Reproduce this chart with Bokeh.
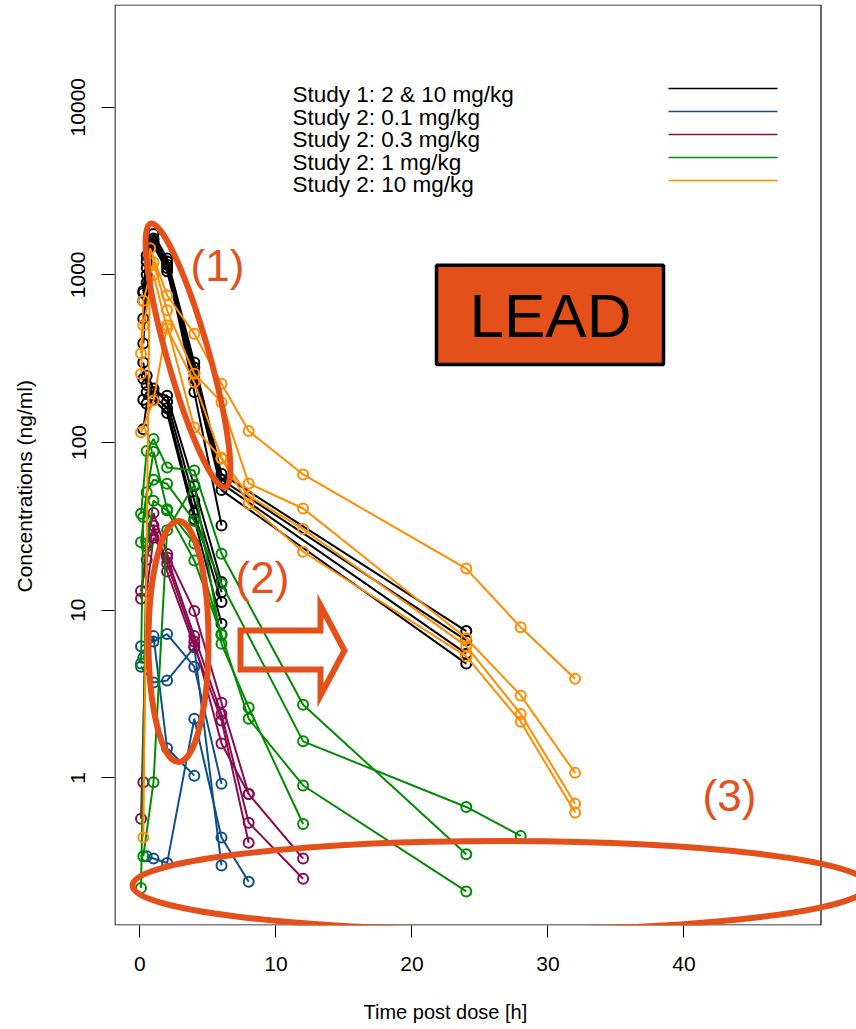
import math
from bokeh.plotting import figure
from bokeh.models import Range1d, FixedTicker, PrintfTickFormatter, Title
from bokeh.core.properties import value
from bokeh.embed import file_html
from bokeh.resources import INLINE

# ---------------- data ----------------
legend_labels = ["Study 1: 2 & 10 mg/kg", "Study 2: 0.1 mg/kg", "Study 2: 0.3 mg/kg",
                 "Study 2: 1 mg/kg", "Study 2: 10 mg/kg"]
group_colors = ["#000000", "#104E8B", "#8B0A50", "#008B00", "#FF8C00"]

x_ticks = [0, 10, 20, 30, 40]
y_ticks = [1, 10, 100, 1000, 10000]

# Study 1 (2 & 10 mg/kg) - black
study1_times = [
    [0.25, 0.5, 1, 2, 4, 6, 24],
    [0.25, 0.5, 1, 2, 4, 6, 24],
    [0.25, 0.5, 1, 2, 4, 6, 24],
    [0.25, 0.5, 1, 2, 4, 6, 24],
    [0.25, 0.5, 1, 2, 4, 6],
    [0.25, 0.5, 1, 2, 4, 6],
    [0.25, 0.5, 1, 2, 4, 6],
    [0.25, 0.5, 1, 2, 4, 6],
    [0.25, 0.5, 1, 2, 4, 6],
]
study1_conc = [
    [800, 1300, 1750, 1250, 300, 65, 7.5],
    [700, 1200, 1650, 1200, 280, 60, 6.6],
    [550, 1000, 1550, 1100, 260, 57, 5.5],
    [390, 900, 1500, 1050, 240, 52, 4.8],
    [780, 1100, 1600, 1150, 200, 32],
    [300, 220, 200, 190, 55, 14.7],
    [240, 250, 210, 175, 45, 12.8],
    [180, 200, 190, 160, 38, 11.2],
    [120, 170, 180, 150, 35, 8.3],
]

# Study 2: 0.1 mg/kg - blue
dose01_times = [
    [0.083, 1, 2, 4, 6],
    [0.5, 1, 2, 4, 6, 8],
    [0.083, 1, 2, 4, 6],
    [0.25, 1, 2, 4],
]
dose01_conc = [
    [6.1, 6.5, 7.2, 4.6, 0.92],
    [0.34, 0.33, 0.31, 2.25, 0.44, 0.24],
    [4.6, 3.7, 3.8, 6.0, 0.30],
    [5.2, 7.0, 1.5, 1.03],
]

# Study 2: 0.3 mg/kg - purple
dose03_times = [
    [0.083, 0.5, 1, 2, 4, 6, 8, 12],
    [0.083, 0.5, 1, 2, 4, 6, 8, 12],
    [0.25, 0.5, 1, 2, 4, 6, 8],
    [0.083, 0.5, 1, 2, 4, 6, 8],
]
dose03_conc = [
    [11.7, 25, 38, 21.6, 9.9, 2.8, 0.8, 0.33],
    [0.57, 13, 27, 20.6, 7.0, 2.4, 0.54, 0.25],
    [0.94, 25, 30, 17, 6.1, 2.2, 0.41],
    [13, 20, 32, 19, 6.5, 1.6, 0.8],
]

# Study 2: 1 mg/kg - green
dose1_times = [
    [0.083, 0.5, 1, 2, 4, 6, 12, 24],
    [0.083, 0.5, 1, 2, 4, 6, 12, 24, 28],
    [0.083, 0.5, 1, 2, 4, 6, 8, 12, 24],
    [0.25, 1, 2, 4, 6, 8, 12],
    [0.083, 0.25, 1, 2, 4, 6],
]
dose1_conc = [
    [37.6, 89, 105, 71, 68, 21.7, 2.73, 0.35],
    [25.4, 50.5, 60, 56.7, 34, 14.4, 1.65, 0.67, 0.45],
    [0.22, 24, 45, 39.3, 19.8, 7.1, 2.25, 0.9, 0.21],
    [0.34, 0.94, 30, 56, 6.3, 2.63, 0.53],
    [4.8, 36, 88, 40, 25, 7.2],
]

# Study 2: 10 mg/kg - orange
dose10_times = [
    [0.25, 0.75, 2, 4, 6, 8, 12, 24, 28, 32],
    [0.083, 0.25, 1, 2, 4, 6, 8, 12, 24, 28, 32],
    [0.083, 0.25, 1, 2, 4, 6, 8, 12, 24, 28, 32],
    [0.083, 1, 2, 4, 6, 8, 12, 24, 28, 32],
]
dose10_conc = [
    [0.44, 1440, 755, 445, 224, 117, 64.5, 17.7, 7.9, 3.9],
    [339, 700, 1190, 614, 257, 174, 57, 40.4, 6.8, 3.1, 1.07],
    [256, 500, 1000, 478, 229, 81, 48, 30.5, 6.1, 2.4, 0.70],
    [115, 178, 500, 123, 80, 43, 22.3, 5.3, 2.16, 0.62],
]

annotation_labels = ["(1)", "(2)", "(3)"]
lead_label = "LEAD"
x_title = "Time post dose [h]"
y_title = "Concentrations (ng/ml)"

# ---------------- layout helpers (pixel -> data) ----------------
X0, KX = 139.4, 13.6
Y1, KY = 777.3, 167.65


def px_x(px):
    return (px - X0) / KX


def px_y(py):
    return 10 ** ((Y1 - py) / KY)


FONT = "Liberation Sans"
ACCENT = "#E4501A"

p = figure(width=856, height=1029, y_axis_type="log",
           x_range=Range1d(px_x(114), px_x(856)),
           y_range=Range1d(px_y(925), px_y(4)),
           output_backend="svg", toolbar_location=None,
           min_border_left=114, min_border_right=0,
           min_border_top=4, min_border_bottom=104,
           outline_line_color=None,
           background_fill_color="white", border_fill_color="white")
p.grid.grid_line_color = None

# axes
p.xaxis.ticker = FixedTicker(ticks=x_ticks, minor_ticks=[])
p.yaxis.ticker = FixedTicker(ticks=y_ticks, minor_ticks=[])
p.yaxis.formatter = PrintfTickFormatter(format="%.0f")
for ax in (p.xaxis, p.yaxis):
    ax.axis_line_color = None
    ax.major_tick_in = 0
    ax.minor_tick_line_color = None
    ax.major_tick_line_color = "black"
    ax.major_tick_line_width = 1
    ax.major_label_text_font = FONT
    ax.major_label_text_font_size = "21px"
    ax.major_label_text_color = "black"
    # tiny spacer label: pushes the real titles (below) to R's positions
    ax.axis_label = " "
    ax.axis_label_text_font_size = "1px"
p.xaxis.major_tick_out = 12
p.yaxis.major_tick_out = 13
p.xaxis.major_label_standoff = 19
p.yaxis.major_label_standoff = 16
p.yaxis.major_label_orientation = "vertical"
p.xaxis.axis_label_standoff = 19
p.yaxis.axis_label_standoff = 27

# axis titles, placed where R put them
p.add_layout(Title(text=x_title, align="left", offset=363 - 114, standoff=4,
                   text_font=FONT, text_font_size="20px", text_font_style="normal",
                   text_color="black"), "below")
p.add_layout(Title(text=y_title, align="left", offset=925 - 592, standoff=4,
                   text_font=FONT, text_font_size="21px", text_font_style="normal",
                   text_color="black"), "left")

# plot box
p.quad(left=[px_x(114.5)], right=[px_x(820.5)], top=[px_y(4.5)], bottom=[px_y(924.5)],
       fill_color=None, line_color="black", line_width=1.2)

# data
groups = [(study1_times, study1_conc), (dose01_times, dose01_conc),
          (dose03_times, dose03_conc), (dose1_times, dose1_conc),
          (dose10_times, dose10_conc)]
for (tt, cc), col in zip(groups, group_colors):
    for t, c in zip(tt, cc):
        p.line(t, c, line_color=col, line_width=2)
        p.scatter(t, c, marker="circle", size=10, fill_color=None,
                  line_color=col, line_width=2)

# legend (text left, line samples right)
leg_text_y = [94, 116.5, 139, 161.5, 184]
leg_line_y = [88, 111, 134, 157, 180]
p.text(x=[px_x(292)] * 5, y=[px_y(v) for v in leg_text_y], text=legend_labels,
       text_font=value(FONT), text_font_size="22.5px", text_color="black",
       text_align="left", text_baseline="middle")
p.segment(x0=[px_x(668)] * 5, x1=[px_x(777)] * 5,
          y0=[px_y(v) for v in leg_line_y], y1=[px_y(v) for v in leg_line_y],
          line_color=group_colors, line_width=1.5)

# annotations
p.ellipse(x=[px_x(187.5)], y=[px_y(355)], width=[42], height=[274],
          angle=[math.radians(15.8)], width_units="screen", height_units="screen",
          fill_color=None, line_color=ACCENT, line_width=6)
p.ellipse(x=[px_x(178)], y=[px_y(641)], width=[60], height=[241],
          angle=[0.0], width_units="screen", height_units="screen",
          fill_color=None, line_color=ACCENT, line_width=6)
p.ellipse(x=[px_x(500)], y=[px_y(885)], width=[736], height=[89],
          angle=[0.0], width_units="screen", height_units="screen",
          fill_color=None, line_color=ACCENT, line_width=6)

arrow_px = [(240, 630), (320, 630), (320, 605), (344, 650), (320, 695), (320, 669), (240, 669)]
p.patch([px_x(a) for a, b in arrow_px], [px_y(b) for a, b in arrow_px],
        fill_color=None, line_color=ACCENT, line_width=6, line_join="miter")

p.text(x=[px_x(217), px_x(262), px_x(729)], y=[px_y(265), px_y(577), px_y(795)],
       text=annotation_labels, text_font=value(FONT), text_font_size="44px",
       text_color=ACCENT, text_align="center", text_baseline="middle")

p.quad(left=[px_x(436)], right=[px_x(663)], top=[px_y(264.7)], bottom=[px_y(364)],
       fill_color=ACCENT, line_color="black", line_width=3.5)
p.text(x=[px_x(550)], y=[px_y(315)], text=[lead_label], text_font=value(FONT),
       text_font_size="62px", text_color="black", text_align="center",
       text_baseline="middle")

open("out.html", "w").write(file_html(p, INLINE))
